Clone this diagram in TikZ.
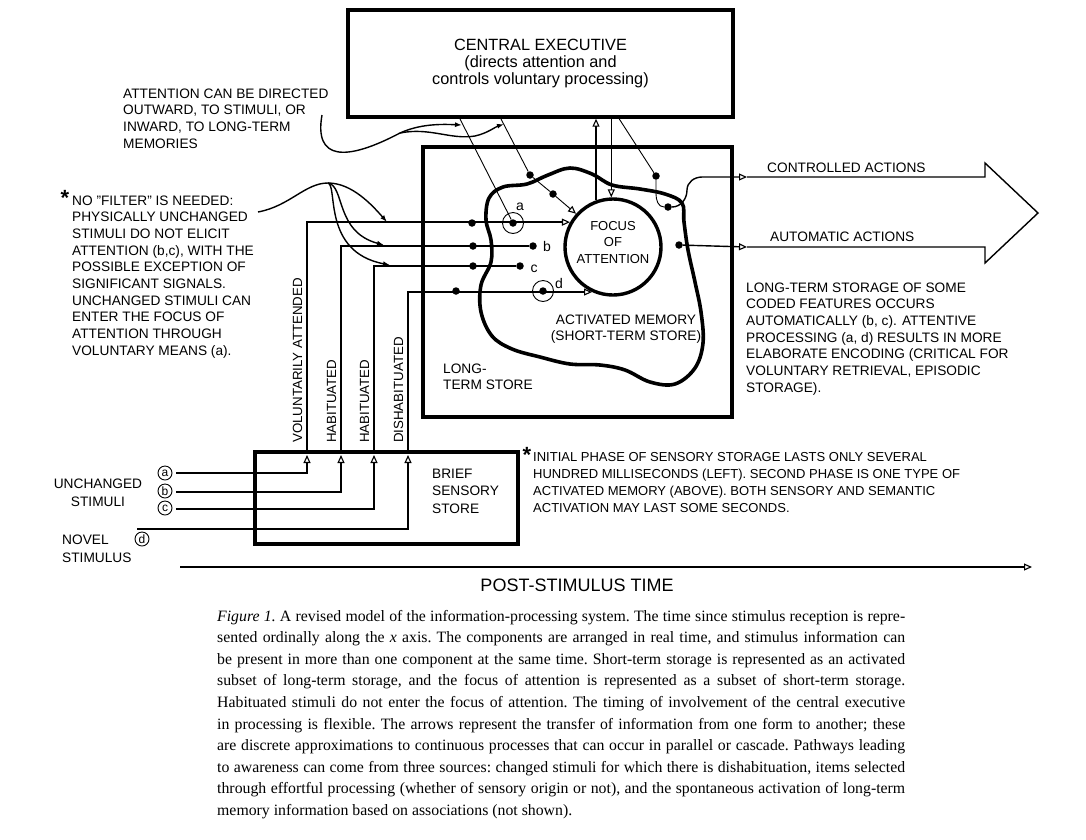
\documentclass[tikz,border=0pt]{standalone}
\usepackage{fontspec}
\setmainfont{Liberation Sans}
\newfontfamily\capfont{Liberation Serif}
\usetikzlibrary{arrows.meta,positioning}

\tikzset{
  heavybox/.style={draw, line width=3.4pt, inner sep=0pt},
  wire/.style={line width=1.4pt},
  thinwire/.style={line width=0.9pt},
  opentip/.style={-{Triangle[open,length=8pt,width=7pt,line width=1.1pt]}},
  filltip/.style={-{Latex[length=7pt,width=5pt]}},
  memdot/.style={circle, fill, inner sep=0pt, minimum size=7.5pt},
  cuering/.style={circle, draw, line width=0.9pt, inner sep=0pt, minimum size=21pt},
  stimring/.style={circle, draw, line width=0.9pt, inner sep=0pt, minimum size=14pt, font=\fontsize{12}{12}\selectfont},
  ann/.style={inner sep=0pt, align=left, font=\fontsize{13.7}{16.7}\selectfont},
  vlab/.style={inner sep=0pt, rotate=90, anchor=south west, font=\fontsize{13.3}{15}\selectfont},
  star/.style={inner sep=0pt, anchor=base, font=\fontsize{22}{22}\selectfont\bfseries},
}

\begin{document}
\begin{tikzpicture}[x=1pt,y=-1pt] % revised information-processing model
  \useasboundingbox (0,0) rectangle (1086,839);

  % stores (multi-line texts sit on the baseline of their last line)
  \node[heavybox, minimum width=385pt, minimum height=107pt, align=center,
        font=\fontsize{16.3}{16.7}\selectfont] (ce) at (540.5,63.5)
        {CENTRAL EXECUTIVE\\(directs attention and\\controls voluntary processing)};
  \node[heavybox, minimum width=309pt, minimum height=270pt] (lts) at (577.5,282) {};
  \node[heavybox, minimum width=263pt, minimum height=92pt] (bss) at (386.5,498) {};
  \draw[line width=3.6pt] plot[smooth cycle, tension=0.6] coordinates {
     (489,198) (503,187) (527,184) (548,175) (570,168) (592,174) (612,185)
     (640,189) (665,194) (682,203) (684,222) (688,250) (695,282) (701,312)
     (703,343) (695,368) (675,384) (650,382) (625,370) (600,365) (570,364)
     (540,357) (512,349) (492,336) (481,312) (481,285) (491,262) (491,240)
     (486,220)};
  \node[circle, draw, line width=3.4pt, minimum size=96pt, inner sep=0pt] (focus) at (613,247) {};

  \node[ann, anchor=base, align=center, font=\fontsize{13}{16.7}\selectfont] (focustxt) at (613,263.4) {FOCUS\\OF\\ATTENTION};
  \node[ann, anchor=base, align=center, font=\fontsize{13.7}{16}\selectfont] (amtxt) at (626,340) {ACTIVATED MEMORY\\(SHORT-TERM STORE)};
  \node[ann, anchor=base west, font=\fontsize{13.7}{16}\selectfont] (ltstxt) at (443,389) {LONG-\\TERM STORE};
  \node[ann, anchor=base west, font=\fontsize{13.7}{17.5}\selectfont] (bsstxt) at (432,513) {BRIEF\\SENSORY\\STORE};

  % stimuli
  \node[ann, anchor=base, align=center, font=\fontsize{13.7}{18}\selectfont] (unch) at (98,506) {UNCHANGED\\STIMULI};
  \node[ann, anchor=base west, font=\fontsize{13.7}{18}\selectfont] (novel) at (62,562) {NOVEL\\STIMULUS};
  \node[stimring] (ca) at (165,473) {a};
  \node[stimring] (cb) at (165,491) {b};
  \node[stimring] (cc) at (165,508) {c};
  \node[stimring] (cd) at (142,539) {d};
  \coordinate (sa) at (176,473);
  \coordinate (sb) at (176,492);
  \coordinate (sc) at (176,509);
  \coordinate (sd) at (137,529);
  \coordinate (ta) at (307,455);
  \coordinate (tb) at (341,455);
  \coordinate (tc) at (374,455);
  \coordinate (td) at (408,455);
  \draw[wire,opentip] (sa) -| (ta);
  \draw[wire,opentip] (sb) -| (tb);
  \draw[wire,opentip] (sc) -| (tc);
  \draw[wire,opentip] (sd) -| (td);

  % dots in long-term and activated memory
  \node[memdot] (a1) at (472,223) {};
  \node[memdot] (a2) at (513,223) {};
  \node[cuering] (ra) at (513,223) {};
  \node[memdot] (b1) at (473,246) {};
  \node[memdot] (b2) at (533,246) {};
  \node[memdot] (c1) at (473,266) {};
  \node[memdot] (c2) at (520,266) {};
  \node[memdot] (d1) at (456,291) {};
  \node[memdot] (d2) at (543,291) {};
  \node[cuering] (rd) at (543,291) {};
  \node[memdot] (e1) at (530,175) {};
  \node[memdot] (e2) at (553,194) {};
  \node[memdot] (k1) at (656,176) {};
  \node[memdot] (k2) at (668,207) {};
  \node[memdot] (m1) at (679,245) {};
  \node[font=\fontsize{14}{14}\selectfont, anchor=base] at (520,210) {a};
  \node[font=\fontsize{14}{14}\selectfont, anchor=base] at (547,251) {b};
  \node[font=\fontsize{14}{14}\selectfont, anchor=base] at (534,272) {c};
  \node[font=\fontsize{14}{14}\selectfont, anchor=base] at (559,288) {d};

  % pathways from the sensory store
  \draw[wire,opentip] (ta |- bss.north) |- (focus.150);
  \draw[wire] (tb |- bss.north) |- (b2);
  \draw[wire] (tc |- bss.north) |- (c2);
  \draw[wire,opentip] (td |- bss.north) |- (focus.245);
  \node[vlab] at (302.5,443) {VOLUNTARILY ATTENDED};
  \node[vlab] at (336.5,443) {HABITUATED};
  \node[vlab] at (369.5,443) {HABITUATED};
  \node[vlab] at (403.5,443) {DISHABITUATED};

  % central executive links
  \draw[thinwire] (459,117) -- (a2);
  \draw[thinwire,opentip] (500,117) -- (e1) -- (e2) -- (focus.138);
  \draw[wire,opentip] (focus.110) -- (focus.110 |- ce.south);
  \draw[wire,opentip] (focus.92 |- ce.south) -- (focus.92);
  \draw[thinwire] (618,117) -- (k1);
  \draw[thinwire] (k1) -- (656,194) to[out=-90,in=180] (k2);

  % actions
  \draw[wire,opentip] (k2) to[out=0,in=-90] (687,190) to[out=90,in=180] (702,177) -- (747,177);
  \draw[wire,opentip] (m1) -- (747,247);
  \draw[wire, line join=miter] (747,177) -- (985,177) -- (985,163) -- (1038,213) -- (985,263) -- (985,247) -- (747,247);
  \node[ann, anchor=base west] (ctrl) at (767,172) {CONTROLLED ACTIONS};
  \node[ann, anchor=base west] (auto) at (770,241) {AUTOMATIC ACTIONS};
  \node[ann, anchor=base west] (ltsnote) at (746,392.2)
    {LONG-TERM STORAGE OF SOME\\CODED FEATURES OCCURS\\AUTOMATICALLY (b, c). ATTENTIVE\\PROCESSING (a, d) RESULTS IN MORE\\ELABORATE ENCODING (CRITICAL FOR\\VOLUNTARY RETRIEVAL, EPISODIC\\STORAGE).};

  % notes on attention
  \node[ann, anchor=base west] (attn) at (123,148.1)
    {ATTENTION CAN BE DIRECTED\\OUTWARD, TO STIMULI, OR\\INWARD, TO LONG-TERM\\MEMORIES};
  \coordinate (attnend) at (322,115);
  \draw[wire,filltip] (attnend) .. controls (314,160) and (345,162) .. (400,133)
     .. controls (420,124) and (440,124) .. (462,125);
  \draw[wire,filltip] (400,133) .. controls (430,127) and (450,140) .. (475,136)
     .. controls (488,133) and (495,127) .. (504,124);

  \node[star] at (65,205) {*};
  \node[ann, anchor=base west] (filter) at (72,355.3)
    {NO "FILTER" IS NEEDED:\\PHYSICALLY UNCHANGED\\STIMULI DO NOT ELICIT\\ATTENTION (b,c), WITH THE\\POSSIBLE EXCEPTION OF\\SIGNIFICANT SIGNALS.\\UNCHANGED STIMULI CAN\\ENTER THE FOCUS OF\\ATTENTION THROUGH\\VOLUNTARY MEANS (a).};
  \coordinate (filterend) at (258,212);
  \draw[wire,filltip] (filterend) .. controls (290,206) and (305,183) .. (328,183)
     .. controls (352,183) and (372,205) .. (387,222);
  \draw[wire,filltip] (328,183) .. controls (345,186) and (335,232) .. (384,245);
  \draw[wire,filltip] (328,183) .. controls (338,186) and (322,252) .. (390,265);

  \node[star] at (527,462) {*};
  \node[ann, anchor=base west, font=\fontsize{13}{17}\selectfont] (initial) at (533,512)
    {INITIAL PHASE OF SENSORY STORAGE LASTS ONLY SEVERAL\\HUNDRED MILLISECONDS (LEFT). SECOND PHASE IS ONE TYPE OF\\ACTIVATED MEMORY (ABOVE). BOTH SENSORY AND SEMANTIC\\ACTIVATION MAY LAST SOME SECONDS.};

  % time axis
  \coordinate (t0) at (180,567);
  \coordinate (t1) at (1032,567);
  \draw[wire,opentip] (t0) -- (t1);
  \node[anchor=base, inner sep=0pt, font=\fontsize{18}{20}\selectfont] (ttl) at (577,591) {POST-STIMULUS TIME};

  % caption
  \node[anchor=base west, inner sep=0pt, align=left, font=\capfont\fontsize{15.8}{21.6}\selectfont\frenchspacing] (caption) at (217,815.4)
    {\makebox[688pt][s]{\textit{Figure 1.} A revised model of the information-processing system. The time since stimulus reception is repre-}\\
     \makebox[688pt][s]{sented ordinally along the \textit{x} axis. The components are arranged in real time, and stimulus information can}\\
     \makebox[688pt][s]{be present in more than one component at the same time. Short-term storage is represented as an activated}\\
     \makebox[688pt][s]{subset of long-term storage, and the focus of attention is represented as a subset of short-term storage.}\\
     \makebox[688pt][s]{Habituated stimuli do not enter the focus of attention. The timing of involvement of the central executive}\\
     \makebox[688pt][s]{in processing is flexible. The arrows represent the transfer of information from one form to another; these}\\
     \makebox[688pt][s]{are discrete approximations to continuous processes that can occur in parallel or cascade. Pathways leading}\\
     \makebox[688pt][s]{to awareness can come from three sources: changed stimuli for which there is dishabituation, items selected}\\
     \makebox[688pt][s]{through effortful processing (whether of sensory origin or not), and the spontaneous activation of long-term}\\
     memory information based on associations (not shown).};
\end{tikzpicture}
\end{document}
